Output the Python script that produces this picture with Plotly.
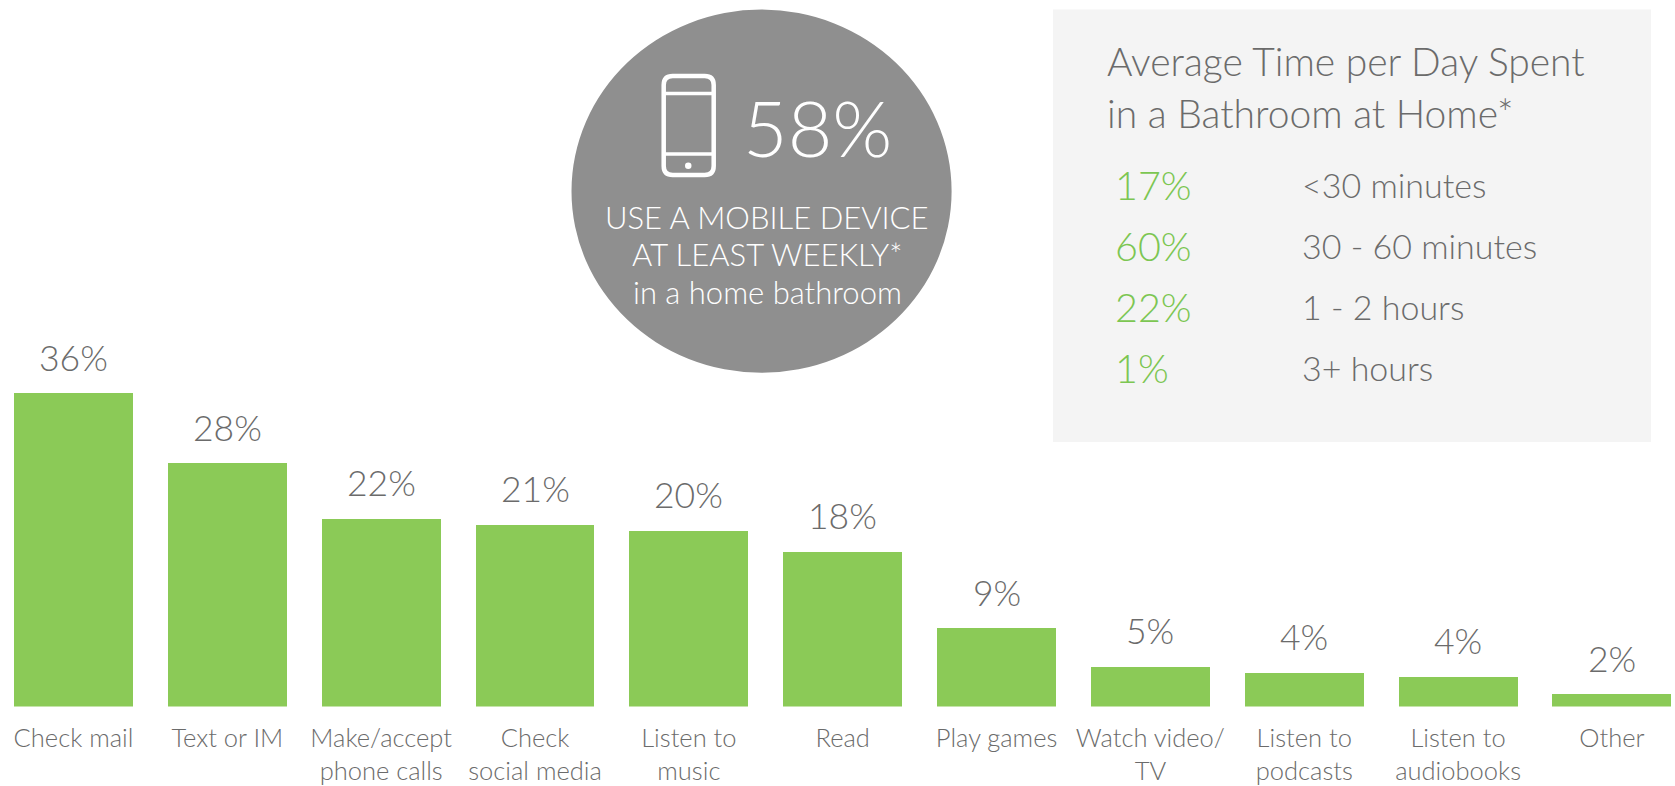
import plotly.graph_objects as go

W, H = 1675, 786
categories = ["Check mail", "Text or IM", "Make/accept<br>phone calls", "Check<br>social media",
              "Listen to<br>music", "Read", "Play games", "Watch video/<br>TV",
              "Listen to<br>podcasts", "Listen to<br>audiobooks", "Other"]
bar_heights = [36, 28, 21.6, 20.9, 20.2, 17.8, 9, 4.6, 3.9, 3.4, 1.4]
bar_labels = ["36%", "28%", "22%", "21%", "20%", "18%", "9%", "5%", "4%", "4%", "2%"]
time_pcts = ["17%", "60%", "22%", "1%"]
time_labels = ["<30 minutes", "30 - 60 minutes", "1 - 2 hours", "3+ hours"]
panel_title = ["Average Time per Day Spent", "in a Bathroom at Home*"]
circle_big = "58%"
circle_lines = ["USE A MOBILE DEVICE", "AT LEAST WEEKLY*", "in a home bathroom"]

GREEN = "#8bca57"; TXT_GREEN = "#7cc652"; GRAY = "#6b6b6b"; CIRC = "#8f8f8f"; PANEL = "#f4f4f4"
FONT = "Lato Light"

px = lambda x: x / W
py = lambda y: 1 - y / H

fig = go.Figure(go.Bar(
    x=list(range(len(categories))), y=bar_heights, width=0.773,
    marker=dict(color=GREEN, line_width=0), hoverinfo="skip",
))

for i, (v, t) in enumerate(zip(bar_heights, bar_labels)):
    fig.add_annotation(xref="x", yref="y", x=i, y=v, yshift=36, text=t, showarrow=False,
                       xanchor="center", yanchor="middle",
                       font=dict(family=FONT, size=35.5, color=GRAY))

def ann(x, y, text, size, color, anchor="left"):
    fig.add_annotation(xref="paper", yref="paper", x=px(x), y=py(y), text=text, showarrow=False,
                       xanchor=anchor, yanchor="middle", align=anchor,
                       font=dict(family=FONT, size=size, color=color))

def rect(x0, y0, x1, y1, **kw):
    fig.add_shape(type="rect", xref="paper", yref="paper", x0=px(x0), x1=px(x1), y0=py(y0), y1=py(y1), **kw)

# panel
rect(1053, 9.6, 1651, 442, fillcolor=PANEL, line_width=0, layer="below")
# circle
fig.add_shape(type="circle", xref="paper", yref="paper", x0=px(571.5), x1=px(951.6), y0=py(9.6), y1=py(372.8),
              fillcolor=CIRC, line_width=0, layer="below")

# phone icon
x0, x1, y0, y1, r = 663.7, 713.7, 76, 175, 9
def P(x, y): return f"{px(x)} {py(y)}"
path = (f"M {P(x0+r,y0)} L {P(x1-r,y0)} Q {P(x1,y0)} {P(x1,y0+r)} L {P(x1,y1-r)} Q {P(x1,y1)} {P(x1-r,y1)} "
        f"L {P(x0+r,y1)} Q {P(x0,y1)} {P(x0,y1-r)} L {P(x0,y0+r)} Q {P(x0,y0)} {P(x0+r,y0)} Z")
fig.add_shape(type="path", xref="paper", yref="paper", path=path, line=dict(color="white", width=4.5))
for yy in (93.5, 154):
    fig.add_shape(type="line", xref="paper", yref="paper", x0=px(x0), x1=px(x1), y0=py(yy), y1=py(yy),
                  line=dict(color="white", width=3.6))
fig.add_shape(type="circle", xref="paper", yref="paper", x0=px(685), x1=px(691.5), y0=py(162.5), y1=py(169),
              fillcolor="white", line_width=0)

ann(740.5, 127, circle_big, 77, "white")
for yy, t in zip((217, 254, 292), circle_lines):
    ann(767, yy, t, 31, "white", "center")

for yy, t in zip((60.5, 113), panel_title):
    ann(1104.5, yy, t, 39, GRAY)
for yy, a, b in zip((184, 245, 306, 367), time_pcts, time_labels):
    ann(1113, yy, a, 39.5, TXT_GREEN)
    ann(1300, yy, b.replace("<", "&lt;"), 34, GRAY)

fig.update_layout(
    width=W, height=H, margin=dict(l=0, r=0, t=0, b=0, autoexpand=False), showlegend=False,
    paper_bgcolor="white", plot_bgcolor="rgba(0,0,0,0)", bargap=0,
    xaxis=dict(range=[-0.4777, 10.41], tickmode="array", tickvals=list(range(len(categories))),
               ticktext=categories, showgrid=False, zeroline=False, showline=False,
               ticks="", ticklabelstandoff=14, automargin=False,
               tickangle=0, tickfont=dict(family=FONT, size=25.5, color=GRAY)),
    yaxis=dict(domain=[(H - 706.5) / H, 1], range=[0, 81.25], visible=False),
)
fig.write_html("out.html", config={"displayModeBar": False},
               post_script="document.body.style.margin='0';document.body.style.overflow='hidden';")
